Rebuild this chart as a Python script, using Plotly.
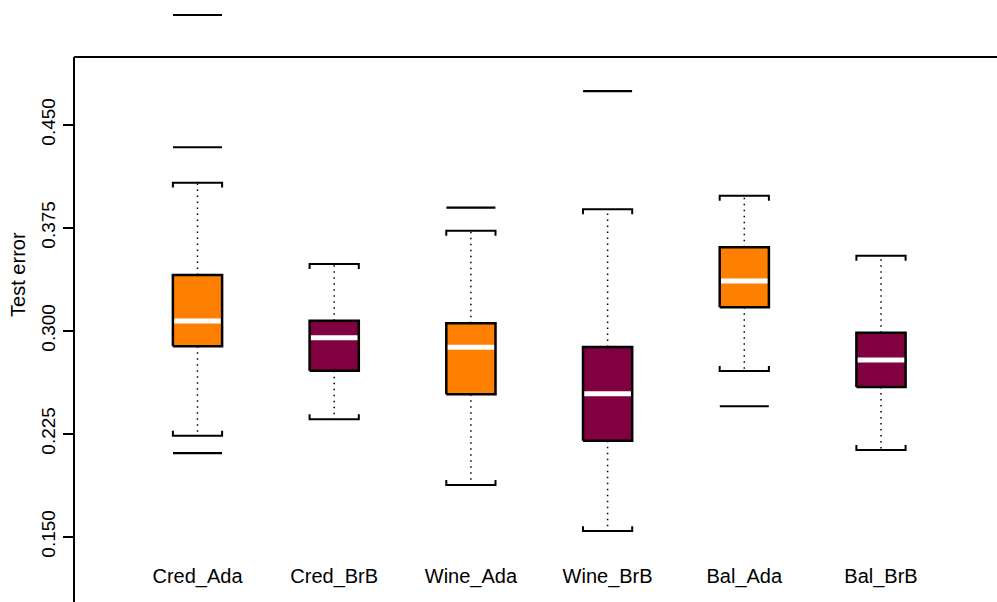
import plotly.graph_objects as go

# ---------------- data ----------------
categories = ["Cred_Ada", "Cred_BrB", "Wine_Ada", "Wine_BrB", "Bal_Ada", "Bal_BrB"]
upper_whisker = [0.4078, 0.3486, 0.3728, 0.3884, 0.3983, 0.3546]
q3_values = [0.3406, 0.3073, 0.3054, 0.2881, 0.3607, 0.2985]
median_values = [0.3071, 0.2949, 0.2879, 0.2541, 0.3362, 0.2787]
q1_values = [0.2886, 0.2709, 0.2537, 0.2199, 0.3170, 0.2590]
lower_whisker = [0.2235, 0.2355, 0.1876, 0.1541, 0.2707, 0.2131]
outliers = [[0.5299, 0.4336, 0.2109], [], [0.3896], [0.4745], [0.2450], []]
fill_colors = ["#FF8000", "#800040", "#FF8000", "#800040", "#FF8000", "#800040"]
y_ticks = [0.150, 0.225, 0.300, 0.375, 0.450]
y_tick_labels = ["0.150", "0.225", "0.300", "0.375", "0.450"]

# ---------------- style ----------------
FONT = "Liberation Sans, Arial, Helvetica, sans-serif"
HALF_W = 0.18          # half box width in category units
STAPLE_TICK = 0.0036   # small vertical end of the staples (y units)
Y_RANGE = [0.10245, 0.54081]   # full canvas height
FRAME_TOP = 0.4993             # level of the plot frame's top edge

fig = go.Figure()

for i, cat in enumerate(categories):
    x0, x1 = i - HALF_W, i + HALF_W
    q1, q3, med = q1_values[i], q3_values[i], median_values[i]
    uw, lw = upper_whisker[i], lower_whisker[i]

    # dotted whiskers
    fig.add_trace(go.Scatter(
        x=[i, i, None, i, i], y=[q3, uw, None, q1, lw], mode="lines",
        line=dict(color="black", width=1.5, dash="1.5px,4.5px"),
        hoverinfo="skip", showlegend=False))
    # staples
    fig.add_trace(go.Scatter(
        x=[x0, x0, x1, x1, None, x0, x0, x1, x1],
        y=[uw - STAPLE_TICK, uw, uw, uw - STAPLE_TICK, None,
           lw + STAPLE_TICK, lw, lw, lw + STAPLE_TICK],
        mode="lines", line=dict(color="black", width=2),
        hoverinfo="skip", showlegend=False))
    # box fill
    fig.add_trace(go.Scatter(
        x=[x0, x1, x1, x0, x0], y=[q1, q1, q3, q3, q1], mode="lines",
        fill="toself", fillcolor=fill_colors[i], line=dict(width=0),
        hoverinfo="skip", showlegend=False))
    # median
    fig.add_trace(go.Scatter(
        x=[x0, x1], y=[med, med], mode="lines",
        line=dict(color="white", width=5),
        hoverinfo="skip", showlegend=False))
    # box border
    fig.add_trace(go.Scatter(
        x=[x0, x1, x1, x0, x0], y=[q1, q1, q3, q3, q1], mode="lines",
        line=dict(color="black", width=2.5),
        hoverinfo="skip", showlegend=False))
    # outliers drawn as horizontal dashes
    if outliers[i]:
        fig.add_trace(go.Scatter(
            x=[i] * len(outliers[i]), y=outliers[i], mode="markers",
            marker=dict(symbol="line-ew", size=35,
                        line=dict(color="black", width=2.2)),
            cliponaxis=False, hoverinfo="skip", showlegend=False))

fig.update_layout(
    width=997, height=602,
    margin=dict(l=74, r=0, t=0, b=0),
    paper_bgcolor="white", plot_bgcolor="white",
    font=dict(family=FONT, color="black"),
    showlegend=False,
    xaxis=dict(
        range=[-0.9034, 5.8486],
        tickmode="array", tickvals=list(range(len(categories))), ticktext=categories,
        ticklabelposition="inside", ticks="", showline=False, showgrid=False,
        zeroline=False, tickfont=dict(size=20, family=FONT, color="black"),
        ticklabelstandoff=12,
    ),
    yaxis=dict(
        range=Y_RANGE,
        tickmode="array", tickvals=y_ticks, ticktext=y_tick_labels,
        tickangle=-90, ticks="outside", ticklen=10, tickwidth=1.5, tickcolor="black",
        showline=False, showgrid=False, zeroline=False,
        tickfont=dict(size=19, family=FONT, color="black"),
    ),
    shapes=[
        # top edge of the frame
        dict(type="line", xref="paper", yref="y", x0=0, x1=1.01,
             y0=FRAME_TOP, y1=FRAME_TOP, line=dict(color="black", width=2),
             layer="above"),
        # left axis line
        dict(type="line", xref="paper", yref="y", x0=0, x1=0,
             y0=Y_RANGE[0] - 0.01, y1=FRAME_TOP, line=dict(color="black", width=2),
             layer="above"),
    ],
    annotations=[
        dict(text="Test error", textangle=-90, xref="paper", yref="paper",
             x=-0.0607, y=0.545, xanchor="center", yanchor="middle",
             showarrow=False, font=dict(size=20, family=FONT, color="black")),
    ],
)

fig.write_html("out.html")
